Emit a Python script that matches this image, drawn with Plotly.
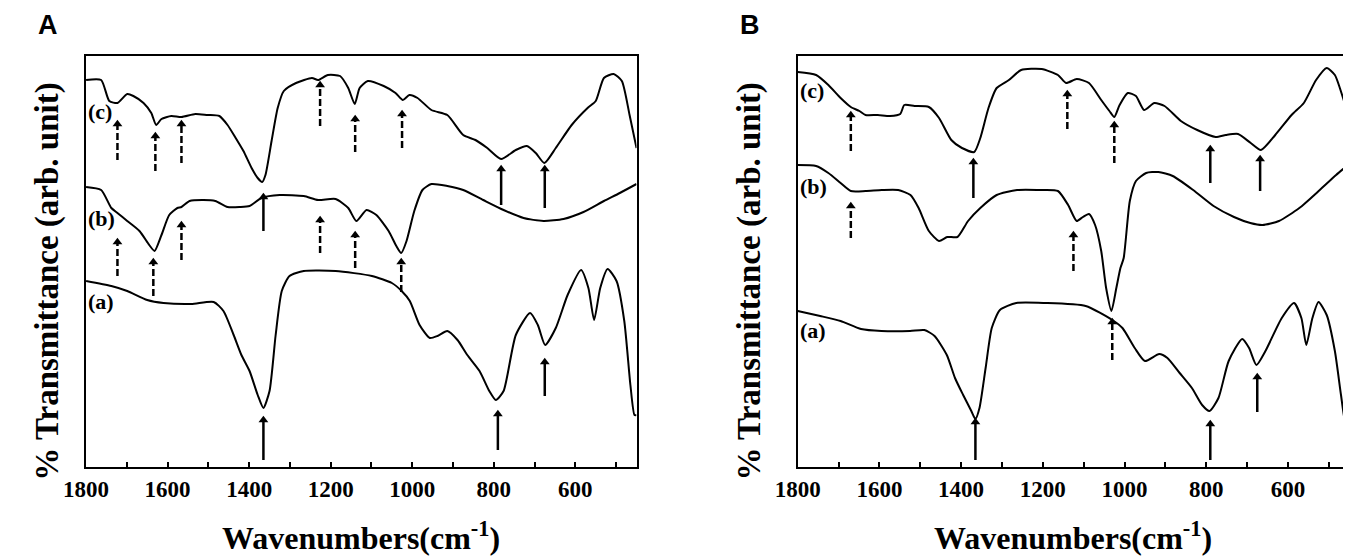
import plotly.graph_objects as go

W, H = 1351, 556

# ---------------- Panel A data (wavenumber, transmittance in arb. units) ----------------
wn_Ac = [1800, 1763, 1743, 1723, 1699, 1684, 1659, 1640, 1628, 1615, 1591, 1566, 1532, 1502, 1473,
         1453, 1433, 1414, 1394, 1379, 1368, 1360, 1345, 1330, 1315, 1285, 1246, 1231, 1207, 1177,
         1157, 1141, 1129, 1109, 1070, 1041, 1023, 1007, 987, 953, 914, 875, 845, 816, 782, 746,
         719, 697, 676, 648, 609, 570, 550, 530, 506, 486, 467, 450]
t_Ac = [387, 387, 366, 364, 373, 371, 364, 354, 342, 348, 351, 350, 353, 352, 351,
        342, 329, 316, 299, 289, 285, 292, 326, 359, 376, 384, 389, 387, 392, 391,
        379, 363, 379, 386, 381, 374, 367, 372, 369, 357, 352, 332, 327, 319, 308, 317,
        321, 314, 304, 319, 342, 359, 366, 389, 393, 386, 352, 319]

wn_Ab = [1800, 1763, 1738, 1723, 1699, 1669, 1645, 1632, 1615, 1596, 1576, 1566, 1546, 1512, 1483,
         1453, 1423, 1399, 1370, 1325, 1266, 1231, 1188, 1157, 1137, 1112, 1088, 1058, 1039, 1027,
         1014, 995, 975, 953, 914, 875, 826, 776, 727, 678, 629, 580, 530, 491, 450]
t_Ab = [280, 277, 259, 254, 246, 236, 222, 216, 232, 252, 259, 260, 266, 267, 266,
        260, 260, 261, 269, 272, 271, 267, 268, 259, 246, 257, 252, 236, 221, 214,
        226, 256, 277, 283, 281, 277, 267, 257, 249, 246, 248, 255, 266, 274, 283]

wn_Aa = [1800, 1738, 1699, 1650, 1610, 1542, 1487, 1463, 1438, 1419, 1399, 1379, 1365, 1350, 1335,
         1320, 1301, 1266, 1188, 1099, 1050, 1026, 1006, 982, 957, 938, 914, 889, 865, 835,
         811, 795, 776, 746, 711, 692, 674, 648, 619, 586, 568, 554, 539, 521, 499, 480,
         465, 455, 450]
t_Aa = [186, 181, 176, 167, 164, 163, 165, 156, 132, 112, 96, 72, 59, 76, 132,
        176, 191, 196, 196, 191, 184, 176, 166, 142, 129, 131, 136, 127, 112, 96,
        76, 67, 76, 132, 154, 142, 122, 139, 172, 197, 179, 147, 179, 198, 186, 146,
        82, 52, 52]

# arrows of panel A: position, tip, tail, dashed
arrA_wn = [1723, 1630, 1566, 1226, 1140, 1025, 1365, 782, 675,
           1723, 1635, 1566, 1226, 1140, 1027,
           1365, 790, 675]
arrA_top = [347, 335, 347, 386, 352, 357, 274, 302, 302,
            229, 209, 246, 251, 236, 209,
            51, 57, 109]
arrA_bot = [307, 296, 304, 341, 315, 319, 236, 262, 259,
            191, 171, 207, 214, 199, 175,
            7, 17, 71]
arrA_dash = [True, True, True, True, True, True, False, False, False,
             True, True, True, True, True, True,
             False, False, False]

# ---------------- Panel B data ----------------
wn_Bc = [1800, 1755, 1725, 1695, 1670, 1649, 1634, 1604, 1574, 1549, 1539, 1514, 1479, 1454, 1424,
         1398, 1368, 1353, 1333, 1313, 1283, 1253, 1203, 1163, 1143, 1117, 1087, 1057, 1037, 1025,
         1012, 992, 972, 952, 927, 902, 862, 822, 777, 752, 722, 691, 666, 631, 591, 561,
         531, 505, 485, 465, 450]
t_Bc = [395, 392, 382, 369, 360, 356, 352, 352, 351, 353, 362, 361, 360, 349, 327,
        319, 315, 329, 359, 379, 387, 397, 398, 392, 384, 388, 384, 367, 356, 350,
        362, 374, 371, 357, 364, 361, 346, 337, 330, 332, 333, 324, 317, 332, 352, 364,
        387, 399, 392, 369, 349]

wn_Bb = [1800, 1755, 1725, 1695, 1670, 1634, 1594, 1554, 1524, 1504, 1479, 1454, 1434, 1409, 1383,
         1353, 1313, 1263, 1203, 1163, 1138, 1117, 1102, 1087, 1072, 1057, 1045, 1032, 1020, 1010,
         1002, 987, 972, 947, 917, 882, 832, 782, 732, 692, 662, 622, 572, 522, 482, 450]
t_Bb = [302, 301, 294, 284, 276, 276, 277, 277, 272, 259, 236, 226, 230, 230, 246,
        259, 272, 277, 277, 276, 262, 246, 250, 253, 242, 216, 179, 156, 179, 199,
        209, 266, 286, 294, 295, 291, 277, 261, 250, 244, 242, 246, 259, 277, 292, 303]

wn_Ba = [1800, 1745, 1695, 1645, 1595, 1525, 1490, 1465, 1435, 1415, 1395, 1375, 1365, 1355, 1340,
         1325, 1305, 1265, 1195, 1095, 1030, 1005, 975, 950, 915, 895, 865, 835, 810, 792,
         770, 745, 712, 695, 677, 655, 615, 585, 567, 555, 540, 525, 505, 485, 470, 460, 455]
t_Ba = [156, 151, 146, 138, 136, 136, 137, 131, 112, 89, 72, 56, 48, 59, 99,
        139, 157, 164, 164, 161, 147, 139, 119, 106, 113, 109, 94, 79, 62, 56,
        69, 106, 128, 119, 102, 116, 149, 164, 149, 122, 149, 165, 152, 116, 72, 46, 44]

arrB_wn = [1670, 1140, 1025, 1370, 790, 668,
           1670, 1125,
           1030, 1365, 790, 675]
arrB_top = [356, 377, 346, 309, 322, 312,
            265, 236,
            149, 49, 47, 94]
arrB_bot = [316, 338, 304, 269, 284, 276,
            229, 196,
            107, 7, 7, 55]
arrB_dash = [True, True, True, False, False, False,
             True, True,
             True, False, False, False]

SERIF = "Liberation Serif, Times New Roman, serif"
SANS = "Liberation Sans, Arial, sans-serif"

fig = go.Figure()

line_style = dict(color="black", width=2, shape="spline", smoothing=0.6)


def add_panel(xa, ya, curves, a_wn, a_top, a_bot, a_dash):
    for wn, t in curves:
        fig.add_trace(go.Scatter(x=wn, y=t, mode="lines", line=line_style,
                                 xaxis=xa, yaxis=ya, showlegend=False, hoverinfo="skip"))
    for dashed in (True, False):
        xs, ys = [], []
        for w, tp, bt, d in zip(a_wn, a_top, a_bot, a_dash):
            if d == dashed:
                xs += [w, w, None]
                ys += [bt, tp - 5, None]
        fig.add_trace(go.Scatter(x=xs, y=ys, mode="lines",
                                 line=dict(color="black", width=2.5,
                                           dash="7px,3px" if dashed else "solid"),
                                 xaxis=xa, yaxis=ya, showlegend=False, hoverinfo="skip"))
    fig.add_trace(go.Scatter(x=a_wn, y=[tp - 4 for tp in a_top], mode="markers",
                             marker=dict(symbol="triangle-up", size=8.5, color="black",
                                         line=dict(width=0)),
                             xaxis=xa, yaxis=ya, showlegend=False, hoverinfo="skip"))


add_panel("x", "y", [(wn_Ac, t_Ac), (wn_Ab, t_Ab), (wn_Aa, t_Aa)],
          arrA_wn, arrA_top, arrA_bot, arrA_dash)
add_panel("x2", "y2", [(wn_Bc, t_Bc), (wn_Bb, t_Bb), (wn_Ba, t_Ba)],
          arrB_wn, arrB_top, arrB_bot, arrB_dash)

ydom = [(H - 459) / H, (H - 48) / H]
xaxis_common = dict(range=[1800, 450], tickmode="linear", tick0=0, dtick=200,
                    ticks="inside", ticklen=5, tickwidth=2, tickcolor="black",
                    minor=dict(dtick=100, tick0=0, ticks="inside", ticklen=5, tickwidth=2,
                               tickcolor="black", showgrid=False),
                    showline=True, linewidth=2, linecolor="black", mirror=True,
                    showgrid=False, zeroline=False,
                    tickfont=dict(family=SERIF, size=23, color="black", weight="bold"))
yaxis_common = dict(range=[0, 411], showticklabels=False, ticks="",
                    showline=True, linewidth=2, linecolor="black", mirror=True,
                    showgrid=False, zeroline=False, domain=ydom)

fig.update_layout(
    width=W, height=H, autosize=False,
    margin=dict(l=0, r=0, t=0, b=0, pad=0),
    paper_bgcolor="white", plot_bgcolor="white",
    showlegend=False,
    xaxis=dict(domain=[56 / W, 616 / W], anchor="y", **xaxis_common),
    yaxis=dict(anchor="x", **yaxis_common),
    xaxis2=dict(domain=[780 / W, 1341 / W], anchor="y2", **xaxis_common),
    yaxis2=dict(anchor="x2", **yaxis_common),
)


def txt(text, cx, cy, family, size, xanchor="center", angle=0):
    return dict(text=text, x=cx / W, y=1 - cy / H, xref="paper", yref="paper",
                xanchor=xanchor, yanchor="middle", showarrow=False, textangle=angle,
                font=dict(family=family, size=size, color="black", weight="bold"))


ann = []
# panel letters
ann.append(txt("A", 17.5, 17, SANS, 27))
ann.append(txt("B", 731, 17, SANS, 27))
# axis titles
for cx in (336, 1060):
    ann.append(txt("Wavenumbers(cm<sup>-1</sup>)", cx, 528, SERIF, 32))
for cx in (16, 730):
    ann.append(txt("% Transmittance (arb. unit)", cx, 274, SERIF, 33, angle=-90))
# curve labels
curve_labels = ["(c)", "(b)", "(a)"]
labA_y = [104, 210, 293]
labB_y = [83, 178, 322]
for lab, yA, yB in zip(curve_labels, labA_y, labB_y):
    ann.append(txt(lab, 56, yA, SERIF, 22, xanchor="left"))
    ann.append(txt(lab, 780, yB, SERIF, 22, xanchor="left"))
fig.update_layout(annotations=ann)

fig.write_html("out.html")
